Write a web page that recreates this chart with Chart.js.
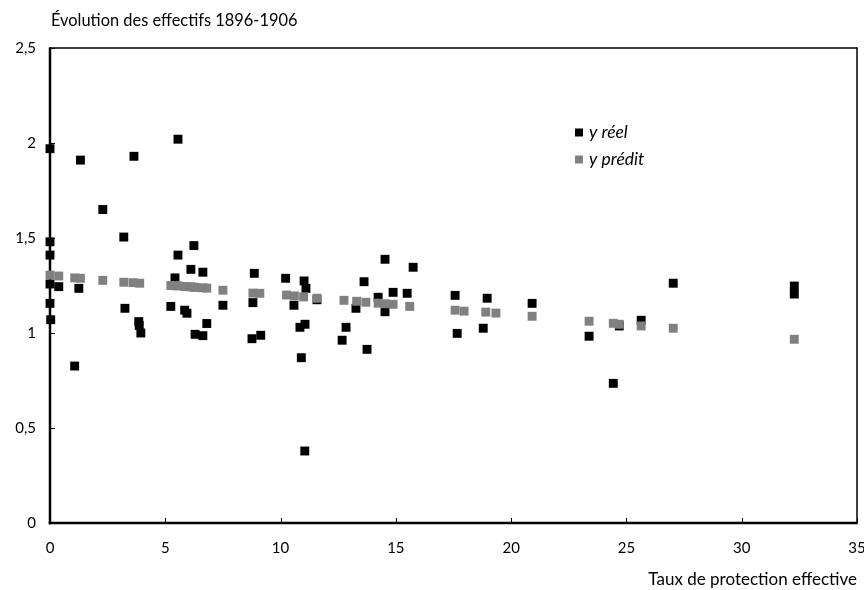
<!DOCTYPE html>
<html>
<head>
<meta charset="utf-8">
<script src="https://cdn.jsdelivr.net/npm/chart.js@4.4.0/dist/chart.umd.min.js"></script>
<style>
  html, body { margin: 0; padding: 0; background: #fff; }
</style>
</head>
<body>
<canvas id="graph_effectifs" width="864" height="590"></canvas>
<script>
// valeurs
const xReel = [0, 0, 0, 0, 0, 0.03, 0.38, 1.07, 1.25, 1.32, 2.29, 3.2, 3.25, 3.64, 3.85, 3.87, 3.94,
  5.24, 5.42, 5.55, 5.55, 5.84, 5.94, 6.11, 6.24, 6.29, 6.63, 6.63, 6.8, 7.5, 8.76, 8.8, 8.86, 9.14,
  10.22, 10.58, 10.84, 10.9, 11.02, 11.05, 11.06, 11.1, 11.58, 12.67, 12.84, 13.27, 13.62, 13.75,
  14.23, 14.53, 14.53, 14.88, 15.49, 15.75, 17.57, 17.66, 18.79, 18.96, 20.91, 23.38, 24.43, 24.69,
  25.64, 27.03, 32.28, 32.28];
const yReel = [1.97, 1.48, 1.41, 1.258, 1.156, 1.07, 1.244, 0.826, 1.235, 1.91, 1.65, 1.505, 1.13, 1.93, 1.06, 1.04, 1.0,
  1.14, 1.29, 2.02, 1.41, 1.12, 1.104, 1.335, 1.46, 0.993, 1.32, 0.986, 1.05, 1.146, 0.97, 1.16, 1.314, 0.988,
  1.288, 1.146, 1.03, 0.87, 1.274, 0.379, 1.046, 1.235, 1.175, 0.962, 1.03, 1.13, 1.27, 0.914,
  1.188, 1.388, 1.112, 1.214, 1.209, 1.346, 1.198, 0.998, 1.025, 1.183, 1.156, 0.983, 0.735, 1.037,
  1.067, 1.262, 1.247, 1.205];

const xPredit = [0, 0.38, 1.07, 1.32, 2.29, 3.2, 3.6, 3.89, 5.24, 5.42, 5.55, 5.84, 5.94, 6.11, 6.24, 6.29,
  6.63, 6.8, 7.5, 8.8, 9.1, 10.26, 10.6, 11.0, 11.58, 12.75, 13.3, 13.7, 14.23, 14.53, 14.88, 15.6,
  17.57, 17.96, 18.9, 19.34, 20.91, 23.38, 24.43, 24.69, 25.64, 27.03, 32.28];
const yPredit = [1.305, 1.3, 1.29, 1.288, 1.277, 1.267, 1.265, 1.262, 1.25, 1.249, 1.248, 1.245, 1.244, 1.243, 1.241, 1.24,
  1.238, 1.236, 1.225, 1.21, 1.209, 1.2, 1.195, 1.19, 1.183, 1.172, 1.167, 1.162, 1.157, 1.154, 1.151, 1.14,
  1.12, 1.115, 1.11, 1.105, 1.088, 1.062, 1.051, 1.046, 1.037, 1.025, 0.967];

const seriesNames = ['y réel', 'y prédit'];
const xTicks = [0, 5, 10, 15, 20, 25, 30, 35];
const yTicks = [0, 0.5, 1, 1.5, 2, 2.5];
const chartTitle = 'Évolution des effectifs 1896-1906';
const xTitle = 'Taux de protection effective';

const FONT = 'Lato, "DejaVu Sans", sans-serif';
const colReel = '#000000';
const colPredit = '#808080';

const toPoints = (xs, ys) => xs.map((x, i) => ({x: x, y: ys[i]}));

// cadre et petites graduations vers l'intérieur (sous les points)
const framePlugin = {
  id: 'cadre',
  beforeDatasetsDraw(chart) {
    const ctx = chart.ctx;
    const a = chart.chartArea;
    const xs = chart.scales.x, ys = chart.scales.y;
    ctx.save();
    ctx.fillStyle = '#000';
    ctx.fillRect(a.left, a.top - 0.75, a.right - a.left, 1.5);
    ctx.fillRect(a.right - 0.75, a.top - 0.75, 1.5, a.bottom - a.top + 1);
    ctx.fillRect(a.left - 1.25, a.top - 0.75, 2.5, a.bottom - a.top + 2);
    ctx.fillRect(a.left - 1.25, a.bottom - 1.25, a.right - a.left + 2, 2.5);
    xTicks.forEach(v => {
      const px = Math.round(xs.getPixelForValue(v));
      ctx.fillRect(px, a.bottom - 5, 1, 5);
    });
    yTicks.forEach(v => {
      const py = Math.round(ys.getPixelForValue(v));
      ctx.fillRect(a.left, py, 5, 1);
    });
    ctx.restore();
  },
  // titre et légende
  afterDraw(chart) {
    const ctx = chart.ctx;
    const a = chart.chartArea;
    ctx.save();
    ctx.fillStyle = '#000';
    ctx.font = '16.4px ' + FONT;
    ctx.textBaseline = 'middle';
    ctx.textAlign = 'left';
    ctx.fillText(chartTitle, a.left + 1, 21);

    const lx = a.left + 525, ly = a.top + 84.5;
    [colReel, colPredit].forEach((c, i) => {
      ctx.fillStyle = c;
      ctx.fillRect(lx, ly - 4 + i * 27, 8, 8);
      ctx.fillStyle = '#000';
      ctx.font = 'italic 17.5px ' + FONT;
      ctx.fillText(seriesNames[i], lx + 14, ly + i * 27);
    });
    ctx.restore();
  }
};

const ctx_eff = document.getElementById('graph_effectifs').getContext('2d');

const config = {
  type: 'scatter',
  data: {
    datasets: [
      {
        label: seriesNames[0],
        data: toPoints(xReel, yReel),
        backgroundColor: colReel,
        pointStyle: 'rect',
        pointRadius: 6.3,
        pointHoverRadius: 6.3,
        borderWidth: 0,
        clip: false,
        order: 2,
      },
      {
        label: seriesNames[1],
        data: toPoints(xPredit, yPredit),
        backgroundColor: colPredit,
        pointStyle: 'rect',
        pointRadius: 6.3,
        pointHoverRadius: 6.3,
        borderWidth: 0,
        clip: false,
        order: 1,
      }
    ]
  },
  options: {
    responsive: false,
    animation: false,
    layout: { padding: { top: 48, left: 6, right: 7, bottom: 0 } },
    plugins: {
      legend: { display: false },
      tooltip: { enabled: false },
    },
    scales: {
      x: {
        type: 'linear',
        min: 0,
        max: 35,
        afterBuildTicks(scale) { scale.ticks = xTicks.map(v => ({value: v})); },
        afterFit(scale) {
          scale.height = 67;
          scale.paddingLeft = 0;
          scale.paddingRight = 0;
        },
        ticks: { color: '#000', font: { family: FONT, size: 15 }, padding: 16 },
        grid: { display: false, drawTicks: false },
        border: { display: false },
        title: {
          display: true,
          text: xTitle,
          align: 'end',
          color: '#000',
          font: { family: FONT, size: 17 },
          padding: { top: 0, bottom: 0 },
        },
      },
      y: {
        type: 'linear',
        min: 0,
        max: 2.5,
        afterBuildTicks(scale) { scale.ticks = yTicks.map(v => ({value: v})); },
        afterFit(scale) {
          scale.width = 44;
          scale.paddingTop = 0;
          scale.paddingBottom = 0;
        },
        ticks: {
          color: '#000',
          font: { family: FONT, size: 15 },
          padding: 14,
          callback: v => String(v).replace('.', ','),
        },
        grid: { display: false, drawTicks: false },
        border: { display: false },
      }
    }
  },
  plugins: [framePlugin]
};

const effChart = new Chart(ctx_eff, config);
</script>
</body>
</html>
